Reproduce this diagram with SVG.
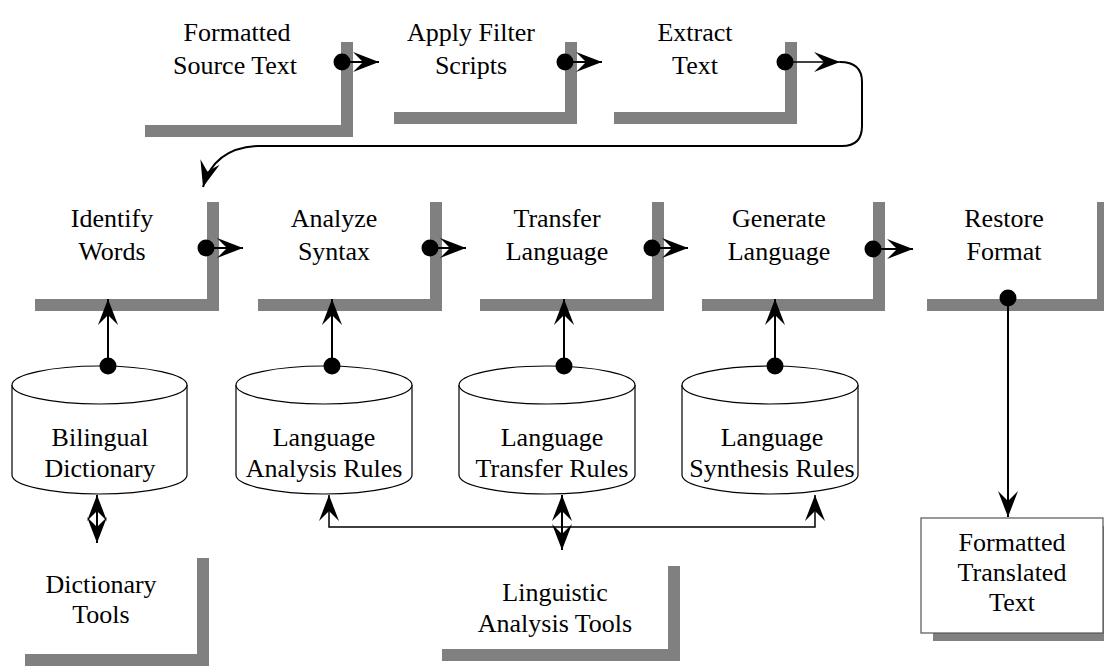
<svg xmlns="http://www.w3.org/2000/svg" width="1104" height="666" viewBox="0 0 1104 666">
<defs>
<marker id="ah" markerUnits="userSpaceOnUse" markerWidth="32" markerHeight="26" viewBox="-29 -13 32 26" refX="0" refY="0" orient="auto-start-reverse">
<path d="M0,0 L-26,-10 L-16,0 L-26,10 Z" fill="#000"/>
</marker>
<style>
.sh{fill:#808080}
.bx{fill:#fff}
text{font-family:"Liberation Serif","Times New Roman",serif;font-size:26px;fill:#000;text-anchor:middle}
.cy{fill:#fff;stroke:#000;stroke-width:1.2}
.ln{fill:none;stroke:#000;stroke-width:2}
.ln1{fill:none;stroke:#000;stroke-width:1.5}
.dot{fill:#000}
</style>
</defs>
<rect width="1104" height="666" fill="#fff"/>

<g id="formatted-source-text">
<rect class="sh" x="145" y="42" width="208" height="95"/>
<rect class="bx" x="133" y="30" width="208" height="95"/>
<text x="237" y="41">Formatted</text>
<text x="235" y="74">Source Text</text>
</g>
<g id="apply-filter-scripts">
<rect class="sh" x="394" y="42" width="183" height="82"/>
<rect class="bx" x="382" y="30" width="183" height="82"/>
<text x="471" y="41">Apply Filter</text>
<text x="471" y="74">Scripts</text>
</g>
<g id="extract-text">
<rect class="sh" x="614" y="42" width="183" height="82"/>
<rect class="bx" x="602" y="30" width="183" height="82"/>
<text x="695" y="41">Extract</text>
<text x="695" y="74">Text</text>
</g>

<g id="identify-words">
<rect class="sh" x="35" y="202" width="184" height="109"/>
<rect class="bx" x="23" y="190" width="184" height="109"/>
<text x="112" y="227">Identify</text>
<text x="112" y="260">Words</text>
</g>
<g id="analyze-syntax">
<rect class="sh" x="258" y="202" width="184" height="109"/>
<rect class="bx" x="246" y="190" width="184" height="109"/>
<text x="334" y="227">Analyze</text>
<text x="334" y="260">Syntax</text>
</g>
<g id="transfer-language">
<rect class="sh" x="480" y="202" width="184" height="109"/>
<rect class="bx" x="468" y="190" width="184" height="109"/>
<text x="557" y="227">Transfer</text>
<text x="557" y="260">Language</text>
</g>
<g id="generate-language">
<rect class="sh" x="702" y="202" width="183" height="109"/>
<rect class="bx" x="690" y="190" width="183" height="109"/>
<text x="779" y="227">Generate</text>
<text x="779" y="260">Language</text>
</g>
<g id="restore-format">
<rect class="sh" x="927" y="202" width="182" height="109"/>
<rect class="bx" x="915" y="190" width="182" height="109"/>
<text x="1004" y="227">Restore</text>
<text x="1004" y="260">Format</text>
</g>

<g id="bilingual-dictionary">
<path class="cy" d="M12,385 L12,475 A87.5,19 0 0 0 187,475 L187,385"/>
<ellipse class="cy" cx="99.5" cy="385" rx="87.5" ry="19"/>
<text x="100" y="446">Bilingual</text>
<text x="100" y="477">Dictionary</text>
</g>
<g id="language-analysis-rules">
<path class="cy" d="M236,385 L236,475 A88,19 0 0 0 412,475 L412,385"/>
<ellipse class="cy" cx="324" cy="385" rx="88" ry="19"/>
<text x="324" y="446">Language</text>
<text x="324" y="477">Analysis Rules</text>
</g>
<g id="language-transfer-rules">
<path class="cy" d="M459,385 L459,475 A88,19 0 0 0 635,475 L635,385"/>
<ellipse class="cy" cx="547" cy="385" rx="88" ry="19"/>
<text x="552" y="446">Language</text>
<text x="552" y="477">Transfer Rules</text>
</g>
<g id="language-synthesis-rules">
<path class="cy" d="M682,385 L682,475 A88,19 0 0 0 858,475 L858,385"/>
<ellipse class="cy" cx="770" cy="385" rx="88" ry="19"/>
<text x="772" y="446">Language</text>
<text x="772" y="477">Synthesis Rules</text>
</g>

<g id="dictionary-tools">
<rect class="sh" x="25" y="558" width="184" height="108"/>
<rect class="bx" x="13" y="546" width="184" height="108"/>
<text x="101" y="593">Dictionary</text>
<text x="101" y="623">Tools</text>
</g>
<g id="linguistic-analysis-tools">
<rect class="sh" x="442" y="566" width="238" height="95"/>
<rect class="bx" x="430" y="554" width="238" height="95"/>
<text x="555" y="601">Linguistic</text>
<text x="555" y="632">Analysis Tools</text>
</g>
<g id="formatted-translated-text">
<rect class="sh" x="933" y="526" width="182" height="115"/>
<rect x="921" y="518" width="182" height="115" fill="#fff" stroke="#555" stroke-width="1.2"/>
<text x="1012" y="551">Formatted</text>
<text x="1012" y="581">Translated</text>
<text x="1012" y="611">Text</text>
</g>

<g id="connectors">
<line class="ln" x1="342" y1="62" x2="379" y2="62" marker-end="url(#ah)"/>
<line class="ln" x1="565" y1="62" x2="602" y2="62" marker-end="url(#ah)"/>
<line class="ln1" x1="785" y1="62" x2="840" y2="62" marker-end="url(#ah)"/>
<path class="ln" d="M840,62 Q862,62 862,82 L862,126 Q862,146 842,146 L258,146 Q214,148 203,187" marker-end="url(#ah)"/>

<line class="ln" x1="206" y1="248" x2="243" y2="248" marker-end="url(#ah)"/>
<line class="ln" x1="430" y1="248" x2="466" y2="248" marker-end="url(#ah)"/>
<line class="ln" x1="652" y1="248" x2="688" y2="248" marker-end="url(#ah)"/>
<line class="ln" x1="873" y1="249" x2="913" y2="249" marker-end="url(#ah)"/>

<line class="ln" x1="108" y1="366" x2="108" y2="299" marker-end="url(#ah)"/>
<line class="ln" x1="332" y1="366" x2="332" y2="299" marker-end="url(#ah)"/>
<line class="ln" x1="564" y1="366" x2="564" y2="299" marker-end="url(#ah)"/>
<line class="ln" x1="775" y1="366" x2="775" y2="299" marker-end="url(#ah)"/>

<line class="ln" x1="1008" y1="298" x2="1008" y2="517" marker-end="url(#ah)"/>

<line class="ln" x1="97" y1="495" x2="97" y2="543" marker-start="url(#ah)" marker-end="url(#ah)"/>
<path class="ln1" d="M329,495 L329,527 L815,527 L815,495" marker-start="url(#ah)" marker-end="url(#ah)"/>
<line class="ln" x1="562" y1="495" x2="562" y2="550" marker-start="url(#ah)" marker-end="url(#ah)"/>

<circle class="dot" cx="342" cy="62" r="8.5"/>
<circle class="dot" cx="565" cy="62" r="8.5"/>
<circle class="dot" cx="785" cy="62" r="8.5"/>
<circle class="dot" cx="206" cy="248" r="8.5"/>
<circle class="dot" cx="430" cy="248" r="8.5"/>
<circle class="dot" cx="652" cy="248" r="8.5"/>
<circle class="dot" cx="873" cy="249" r="8.5"/>
<circle class="dot" cx="108" cy="366" r="8.5"/>
<circle class="dot" cx="332" cy="366" r="8.5"/>
<circle class="dot" cx="564" cy="366" r="8.5"/>
<circle class="dot" cx="775" cy="366" r="8.5"/>
<circle class="dot" cx="1008" cy="298" r="8.5"/>
</g>
</svg>
